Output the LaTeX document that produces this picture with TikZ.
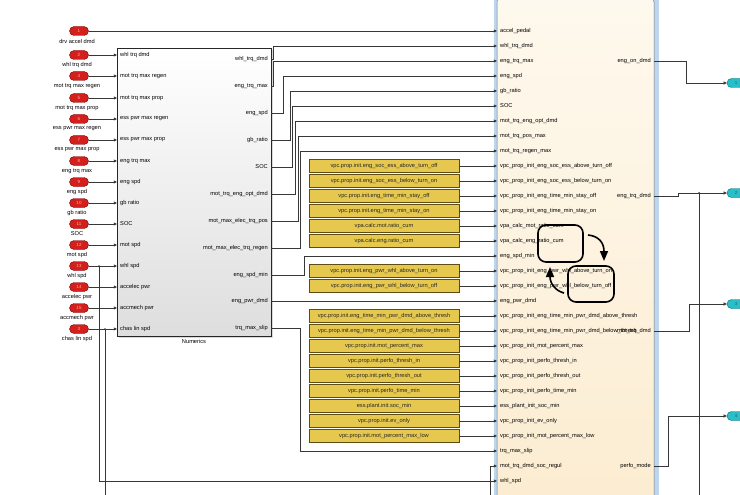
\documentclass[tikz,border=0pt]{standalone}
\usepackage{fontspec}
\setmainfont{Liberation Sans}
\usetikzlibrary{arrows.meta,shapes.misc,calc}
\definecolor{wirec}{RGB}{55,55,55}
\definecolor{inred}{RGB}{212,32,28}
\definecolor{inredd}{RGB}{120,10,10}
\definecolor{outcy}{RGB}{40,192,200}
\definecolor{outcyd}{RGB}{10,100,110}
\definecolor{constf}{RGB}{230,200,78}
\definecolor{constd}{RGB}{95,75,20}
\definecolor{sftop}{RGB}{254,249,238}
\definecolor{sfbot}{RGB}{252,236,208}
\definecolor{sfblue}{RGB}{188,214,240}
\begin{document}
\begin{tikzpicture}[x=1pt,y=-1pt,
  wire/.style={draw=wirec,line width=0.55pt},
  arr/.style={wire,-{Triangle[length=3.2pt,width=3pt]}},
  tiny/.style={font=\fontsize{5.7}{6}\selectfont,text=black,inner sep=0pt},
  inport/.style={rounded rectangle,draw=inredd,fill=inred,line width=0.4pt,minimum width=19pt,minimum height=9pt,inner sep=0pt,font=\fontsize{4.5}{5}\selectfont,text={rgb,255:red,255;green,170;blue,170}},
  outport/.style={rounded rectangle,draw=outcyd,fill=outcy,line width=0.4pt,minimum width=18pt,minimum height=9pt,inner sep=0pt,font=\fontsize{4.5}{5}\selectfont,text=black!70},
  constblk/.style={rectangle,draw=constd,fill=constf,line width=0.6pt,minimum width=150pt,minimum height=13pt,inner sep=0pt,font=\fontsize{5.7}{6}\selectfont,text=black!85},
  chartln/.style={draw=black,line width=1.6pt},
  dot/.style={circle,fill=wirec,inner sep=0pt,minimum size=2pt}
]
\useasboundingbox (0,0) rectangle (740,495);
\fill[white] (0,0) rectangle (740,495);

% ---------- Stateflow block ----------
\fill[sfblue] (494,-4) rectangle (659,520);
\node[draw=black!55,line width=0.5pt,rounded corners=6pt,top color=sftop,bottom color=sfbot,
      minimum width=157pt,minimum height=524pt,inner sep=0pt] (sf) at (575.5,258) {};

% ---------- Numerics block ----------
\fill[black!15] (119,50) rectangle (273,338);
\node[draw=black!85,line width=0.6pt,top color=white,bottom color=black!13,
      minimum width=154pt,minimum height=288pt,inner sep=0pt] (num) at (194,192) {};
\node[tiny] (numlbl) at (194,341) {Numerics};

% ---------- Inports ----------
\foreach \n/\y/\t in {1/31/drv accel dmd,2/55/whl trq dmd,4/76/mot trq max regen,5/98/mot trq max prop,
  6/119/ess pwr max regen,7/140/ess pwr max prop,8/161/eng trq max,9/182/eng spd,10/203/gb ratio,
  11/224/SOC,12/245/mot spd,13/266/whl spd,14/287/accelec pwr,15/308/accmech pwr,3/329/chas lin spd}{
  \node[inport] (in\n) at (79,\y) {\n};
  \node[tiny] (inl\n) at (77,{\y+10}) {\t};
}

% Numerics input ports
\foreach \n/\y/\t in {2/55/whl trq dmd,4/76/mot trq max regen,5/98/mot trq max prop,
  6/119/ess pwr max regen,7/140/ess pwr max prop,8/161/eng trq max,9/182/eng spd,10/203/gb ratio,
  11/224/SOC,12/245/mot spd,13/266/whl spd,14/287/accelec pwr,15/308/accmech pwr,3/329/chas lin spd}{
  \coordinate (ni\n) at (117,\y);
  \node[tiny,anchor=west] (nil\n) at (120,\y) {\t};
  \draw[arr] (in\n.east) -- (ni\n);
}

% Numerics outputs
\foreach \k/\y/\t in {a/59/whl\_trq\_dmd,b/86/eng\_trq\_max,c/113/eng\_spd,d/140/gb\_ratio,e/167/SOC,
  f/194/mot\_trq\_eng\_opt\_dmd,g/221/mot\_max\_elec\_trq\_pos,h/248/mot\_max\_elec\_trq\_regen,
  i/275/eng\_spd\_min,j/301/eng\_pwr\_dmd,k/328/trq\_max\_slip}{
  \coordinate (no\k) at (271,\y);
  \node[tiny,anchor=east] (nol\k) at (268,\y) {\t};
}

% ---------- Stateflow ports ----------
\foreach \i/\t in {0/accel\_pedal,1/whl\_trq\_dmd,2/eng\_trq\_max,3/eng\_spd,4/gb\_ratio,5/SOC,
  6/mot\_trq\_eng\_opt\_dmd,7/mot\_trq\_pos\_max,8/mot\_trq\_regen\_max,
  9/vpc\_prop\_init\_eng\_soc\_ess\_above\_turn\_off,10/vpc\_prop\_init\_eng\_soc\_ess\_below\_turn\_on,
  11/vpc\_prop\_init\_eng\_time\_min\_stay\_off,12/vpc\_prop\_init\_eng\_time\_min\_stay\_on,
  13/vpa\_calc\_mot\_ratio\_cum,14/vpa\_calc\_eng\_ratio\_cum,15/eng\_spd\_min,
  16/vpc\_prop\_init\_eng\_pwr\_whl\_above\_turn\_on,17/vpc\_prop\_init\_eng\_pwr\_whl\_below\_turn\_off,
  18/eng\_pwr\_dmd,19/vpc\_prop\_init\_eng\_time\_min\_pwr\_dmd\_above\_thresh,
  20/vpc\_prop\_init\_eng\_time\_min\_pwr\_dmd\_below\_thresh,21/vpc\_prop\_init\_mot\_percent\_max,
  22/vpc\_prop\_init\_perfo\_thresh\_in,23/vpc\_prop\_init\_perfo\_thresh\_out,
  24/vpc\_prop\_init\_perfo\_time\_min,25/ess\_plant\_init\_soc\_min,26/vpc\_prop\_init\_ev\_only,
  27/vpc\_prop\_init\_mot\_percent\_max\_low,28/trq\_max\_slip,29/mot\_trq\_dmd\_soc\_regul,30/whl\_spd}{
  \coordinate (p\i) at (497,{31+15*\i});
  \node[tiny,anchor=west] (pl\i) at (500,{31+15*\i}) {\t};
}

% outputs of Stateflow block
\foreach \k/\y/\t in {0/61/eng\_on\_dmd,1/196/eng\_trq\_dmd,2/331/mot\_trq\_dmd,3/466/perfo\_mode}{
  \coordinate (q\k) at (654,\y);
  \node[tiny,anchor=east] (ql\k) at (651,\y) {\t};
}

% ---------- Constants ----------
\foreach \i/\t in {9/vpc.prop.init.eng\_soc\_ess\_above\_turn\_off,10/vpc.prop.init.eng\_soc\_ess\_below\_turn\_on,
  11/vpc.prop.init.eng\_time\_min\_stay\_off,12/vpc.prop.init.eng\_time\_min\_stay\_on,
  13/vpa.calc.mot.ratio\_cum,14/vpa.calc.eng.ratio\_cum,
  16/vpc.prop.init.eng\_pwr\_whl\_above\_turn\_on,17/vpc.prop.init.eng\_pwr\_whl\_below\_turn\_off,
  19/vpc.prop.init.eng\_time\_min\_pwr\_dmd\_above\_thresh,20/vpc.prop.init.eng\_time\_min\_pwr\_dmd\_below\_thresh,
  21/vpc.prop.init.mot\_percent\_max,22/vpc.prop.init.perfo\_thresh\_in,23/vpc.prop.init.perfo\_thresh\_out,
  24/vpc.prop.init.perfo\_time\_min,25/ess.plant.init.soc\_min,26/vpc.prop.init.ev\_only,
  27/vpc.prop.init.mot\_percent\_max\_low}{
  \node[constblk] (c\i) at (384,{31+15*\i}) {\t};
  \draw[arr] (c\i.east) -- (p\i);
}

% ---------- Wires Numerics -> Stateflow ----------
\draw[arr] (in1.east) -- (p0);
\draw[arr] (noa) -- ++(2,0) |- (p1);
\draw[arr] (nob) -- ++(2,0) |- (p2);
\draw[arr] (noc) -- ++(12,0) |- (p3);
\draw[arr] (nod) -- ++(19,0) |- (p4);
\draw[arr] (noe) -- ++(21,0) |- (p5);
\draw[arr] (nof) -- ++(24,0) |- (p6);
\draw[arr] (nog) -- ++(27,0) |- (p7);
\draw[arr] (noh) -- ++(29,0) |- (p8);
\draw[arr] (noi) -- ++(33,0) |- (p15);
\draw[arr] (noj) -- (p18);
\draw[arr] (nok) -- ++(29,0) |- (p28);

% branches from inports
\coordinate (bw) at (99,266);
\coordinate (bc) at (105,329);
\node[dot] (bwd) at (bw) {};
\node[dot] (bcd) at (bc) {};
\draw[arr] (bw) |- (p30);
\coordinate (bcend) at (105,500);
\draw[wire] (bc) -- (bcend);
\coordinate (fb29) at (490,500);
\draw[arr] (fb29) |- (p29);

% ---------- Outports ----------
\node[outport] (out1) at (736,83) {1};
\node[outport] (out2) at (736,193) {2};
\node[outport] (out3) at (736,304) {3};
\node[outport] (out4) at (736,416) {4};
\draw[arr] (q0) -- ++(32,0) |- (out1.west);
\draw[arr] (q1) -- ++(24,0) -- ++(0,-3) -- (out2.west);
\coordinate (br2) at (699,193);
\node[dot] (br2d) at (br2) {};
\coordinate (br2end) at (699,500);
\draw[wire] (br2) -- (br2end);
\draw[arr] (q2) -- ++(35,0) |- (out3.west);
\draw[arr] (q3) -- ++(14,0) |- (out4.west);

% ---------- Chart icon ----------
\draw[chartln,rounded corners=8pt] (538,225) rectangle (583,262);
\draw[chartln,rounded corners=8pt] (568,266) rectangle (614,302);
\draw[chartln,-{Triangle[length=10pt,width=8pt]}] (588,235) .. controls (598,236) and (604,242) .. (604,261);
\draw[chartln,-{Triangle[length=10pt,width=8pt]}] (564,293) .. controls (556,291) and (550,284) .. (550,267);
\end{tikzpicture}
\end{document}
